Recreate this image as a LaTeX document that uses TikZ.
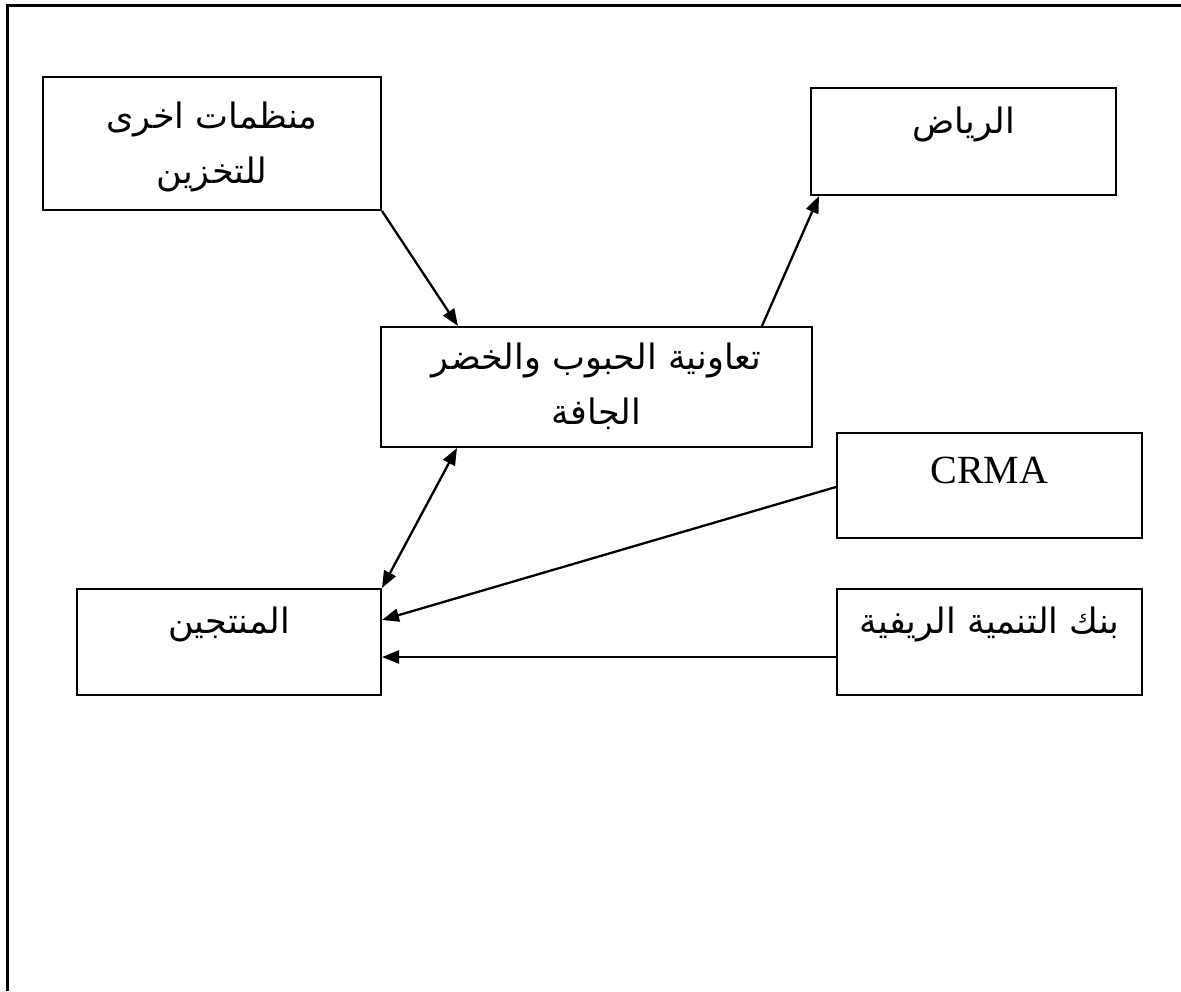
\documentclass[tikz,border=0pt]{standalone}
\usepackage{fontspec}
\setmainfont{Liberation Serif}
\newfontfamily\arabicfont[Script=Arabic]{DejaVu Sans}
\TeXXeTstate=1
\usetikzlibrary{arrows.meta}
\begin{document}
\begin{tikzpicture}[x=1pt,y=-1pt,
  box/.style={draw,line width=2pt,rectangle,inner sep=0pt},
  artext/.style={font=\arabicfont\fontsize{35}{55}\selectfont, align=center, anchor=base, inner sep=0pt},
  latext/.style={font=\fontsize{40}{48}\selectfont, anchor=base, inner sep=0pt},
  conn/.style={line width=2.3pt,-{Triangle[length=17pt,width=13pt]}},
  dconn/.style={line width=2.3pt,{Triangle[length=17pt,width=13pt]}-{Triangle[length=17pt,width=13pt]}},
]
\useasboundingbox (0,0) rectangle (1181,991);
\coordinate (fbl) at (7,991);
\coordinate (ftl) at (7,5);
\coordinate (ftr) at (1181,5);
\draw[line width=3pt] (fbl) -- (ftl) -- (ftr);

% boxes
\node[box, minimum width=338pt, minimum height=133pt] (m) at (212,143.5) {};
\node[box, minimum width=305pt, minimum height=107pt] (r) at (963.5,141.5) {};
\node[box, minimum width=431pt, minimum height=120pt] (c) at (596.5,387) {};
\node[box, minimum width=305pt, minimum height=105pt] (crma) at (989.5,485.5) {};
\node[box, minimum width=304pt, minimum height=106pt] (p) at (229,642) {};
\node[box, minimum width=305pt, minimum height=106pt] (b) at (989.5,642) {};

% texts (base anchor = baseline of last line)
\node[artext] (mt) at (212,183) {\beginR منظمات اخرى\endR\\\beginR للتخزين\endR};
\node[artext] (rt) at (963.5,133) {\beginR الرياض\endR};
\node[artext] (ct) at (596.5,424) {\beginR تعاونية الحبوب والخضر\endR\\\beginR الجافة\endR};
\node[latext] (crmat) at (989.5,483) {CRMA};
\node[artext] (pt) at (229,633) {\beginR المنتجين\endR};
\node[artext] (bt) at (989.5,633) {\beginR بنك التنمية الريفية\endR};

% connectors
\draw[conn] (m.south east) -- ([xshift=78pt]c.north west);
\draw[conn] ([xshift=382pt]c.north west) -- ([xshift=9pt]r.south west);
\draw[dconn] ([xshift=77pt]c.south west) -- (p.north east);
\draw[conn] ([yshift=-1.5pt]crma.west) -- ([yshift=22pt]p.east);
\draw[conn] ([yshift=-15pt]b.west) -- ([yshift=-15pt]p.east);
\end{tikzpicture}
\end{document}
